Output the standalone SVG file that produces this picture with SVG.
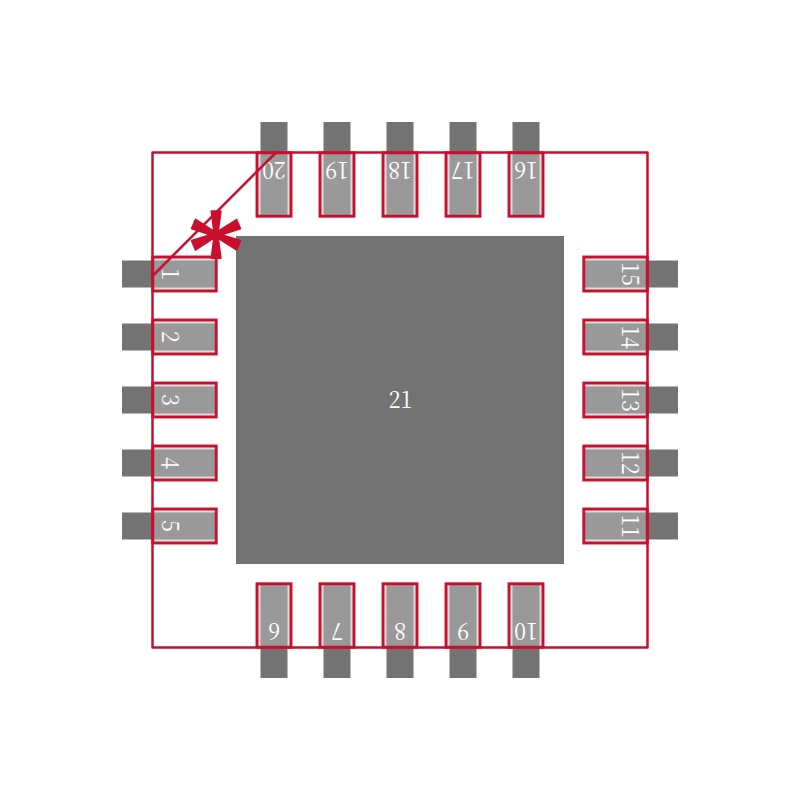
<svg xmlns="http://www.w3.org/2000/svg" width="800" height="800" viewBox="0 0 800 800">
<style>
.d{fill:#737373}
.l{fill:#dcdcdc}
.g{fill:#999}
.r{fill:none;stroke:#c8102e;stroke-width:2.5;stroke-linejoin:round;stroke-linecap:round}
.p{fill:none;stroke:#c8102e;stroke-width:2.9;stroke-linejoin:miter}
text{font-family:"Noto Serif CJK SC","Liberation Serif",serif;font-size:24.5px;fill:#fff;text-anchor:middle}
.m{font-family:"Liberation Serif",serif;font-size:120px;fill:#c8102e;stroke:#c8102e;stroke-width:2;stroke-linejoin:round}
</style>
<rect width="800" height="800" fill="#fff"/>
<g id="pad21"><rect class="d" x="236" y="236" width="328" height="328"/><text transform="translate(400.5 399) scale(.88 1)" y="9">21</text></g>
<defs>
<g id="h"><rect class="d" x="122" y="-13.5" width="31" height="27"/><rect class="l" x="153" y="-17" width="63" height="34"/><rect class="g" x="153" y="-13.5" width="63" height="27"/></g>
<g id="v"><rect class="d" x="-13.5" y="122" width="27" height="31"/><rect class="l" x="-17" y="153" width="34" height="63"/><rect class="g" x="-13.5" y="153" width="27" height="63"/></g>
<rect id="rh" class="p" x="152.8" y="-17" width="63.4" height="34"/>
<rect id="rv" class="p" x="-17" y="152.8" width="34" height="63.4"/>
</defs>
<g id="pin1"><use href="#h" y="274"/><text transform="translate(171 274) rotate(90) scale(.88 1)" y="9">1</text><use href="#rh" y="274"/></g>
<g id="pin2"><use href="#h" y="337"/><text transform="translate(171 337) rotate(90) scale(.88 1)" y="9">2</text><use href="#rh" y="337"/></g>
<g id="pin3"><use href="#h" y="400"/><text transform="translate(171 400) rotate(90) scale(.88 1)" y="9">3</text><use href="#rh" y="400"/></g>
<g id="pin4"><use href="#h" y="463"/><text transform="translate(171 463) rotate(90) scale(.88 1)" y="9">4</text><use href="#rh" y="463"/></g>
<g id="pin5"><use href="#h" y="526"/><text transform="translate(171 526) rotate(90) scale(.88 1)" y="9">5</text><use href="#rh" y="526"/></g>
<g id="pin15"><use href="#h" transform="translate(800 274) scale(-1 1)"/><text transform="translate(631.5 274) rotate(90) scale(.88 1)" y="9">15</text><use href="#rh" transform="translate(800 274) scale(-1 1)"/></g>
<g id="pin14"><use href="#h" transform="translate(800 337) scale(-1 1)"/><text transform="translate(631.5 337) rotate(90) scale(.88 1)" y="9">14</text><use href="#rh" transform="translate(800 337) scale(-1 1)"/></g>
<g id="pin13"><use href="#h" transform="translate(800 400) scale(-1 1)"/><text transform="translate(631.5 400) rotate(90) scale(.88 1)" y="9">13</text><use href="#rh" transform="translate(800 400) scale(-1 1)"/></g>
<g id="pin12"><use href="#h" transform="translate(800 463) scale(-1 1)"/><text transform="translate(631.5 463) rotate(90) scale(.88 1)" y="9">12</text><use href="#rh" transform="translate(800 463) scale(-1 1)"/></g>
<g id="pin11"><use href="#h" transform="translate(800 526) scale(-1 1)"/><text transform="translate(631.5 526) rotate(90) scale(.88 1)" y="9">11</text><use href="#rh" transform="translate(800 526) scale(-1 1)"/></g>
<g id="pin20"><use href="#v" x="274"/><text transform="translate(274 171) rotate(180) scale(.88 1)" y="9">20</text><use href="#rv" x="274"/></g>
<g id="pin19"><use href="#v" x="337"/><text transform="translate(337 171) rotate(180) scale(.88 1)" y="9">19</text><use href="#rv" x="337"/></g>
<g id="pin18"><use href="#v" x="400"/><text transform="translate(400 171) rotate(180) scale(.88 1)" y="9">18</text><use href="#rv" x="400"/></g>
<g id="pin17"><use href="#v" x="463"/><text transform="translate(463 171) rotate(180) scale(.88 1)" y="9">17</text><use href="#rv" x="463"/></g>
<g id="pin16"><use href="#v" x="526"/><text transform="translate(526 171) rotate(180) scale(.88 1)" y="9">16</text><use href="#rv" x="526"/></g>
<g id="pin6"><use href="#v" transform="translate(274 800) scale(1 -1)"/><text transform="translate(274 632) rotate(180) scale(.88 1)" y="9">6</text><use href="#rv" transform="translate(274 800) scale(1 -1)"/></g>
<g id="pin7"><use href="#v" transform="translate(337 800) scale(1 -1)"/><text transform="translate(337 632) rotate(180) scale(.88 1)" y="9">7</text><use href="#rv" transform="translate(337 800) scale(1 -1)"/></g>
<g id="pin8"><use href="#v" transform="translate(400 800) scale(1 -1)"/><text transform="translate(400 632) rotate(180) scale(.88 1)" y="9">8</text><use href="#rv" transform="translate(400 800) scale(1 -1)"/></g>
<g id="pin9"><use href="#v" transform="translate(463 800) scale(1 -1)"/><text transform="translate(463 632) rotate(180) scale(.88 1)" y="9">9</text><use href="#rv" transform="translate(463 800) scale(1 -1)"/></g>
<g id="pin10"><use href="#v" transform="translate(526 800) scale(1 -1)"/><text transform="translate(526 632) rotate(180) scale(.88 1)" y="9">10</text><use href="#rv" transform="translate(526 800) scale(1 -1)"/></g>
<g id="outline">
<rect class="r" x="152.5" y="152.5" width="495" height="495"/>
<line class="r" x1="152.5" y1="276" x2="276" y2="152.5"/>
</g>
<g id="marker"><text class="m" transform="translate(216 295) scale(1 1.05)">*</text></g>
</svg>
